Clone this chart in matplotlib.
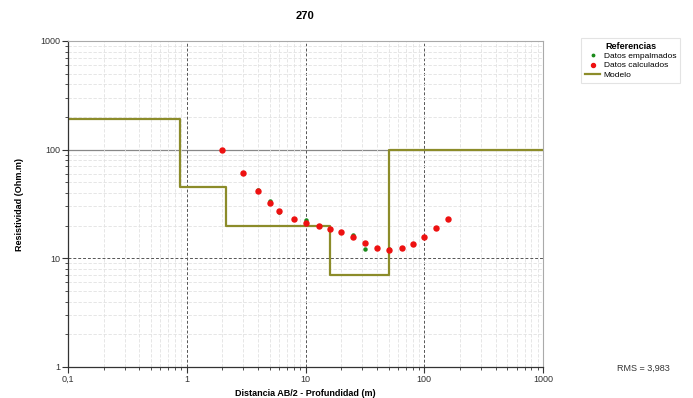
import numpy as np
import matplotlib
matplotlib.use('Agg')
import matplotlib.pyplot as plt
from matplotlib.ticker import FuncFormatter, LogLocator, NullFormatter

# Modelo de capas (limites en AB/2 y resistividad)
modelo_x = [0.1, 0.88, 0.88, 2.15, 2.15, 16, 16, 50, 50, 1000]
modelo_rho = [190, 190, 45, 45, 20, 20, 7, 7, 100, 100]

# Datos medidos / calculados
ab2 = [2, 3, 4, 5, 6, 8, 10, 13, 16, 20, 25, 32, 40, 50, 65, 80, 100, 125, 160]
rho_empalmados = [100, 60.5, 42.7, 33.9, 26.8, 23.1, 22.5, 19.7, 18.6, 17.3,
                  16.5, 12.3, 12.5, 12.2, 12.4, 13.6, 15.8, 19.0, 23.1]
rho_calculados = [100, 60.5, 41.6, 32.5, 27.4, 23.1, 21.3, 19.7, 18.6, 17.3,
                  15.7, 13.9, 12.5, 11.9, 12.4, 13.6, 15.8, 19.0, 23.1]

plt.rcParams['font.family'] = ['Liberation Sans', 'DejaVu Sans']

fig = plt.figure(figsize=(6.93, 3.98), dpi=100)
ax = fig.add_axes([68 / 693, 1 - 367 / 398, 475 / 693, 326 / 398])

ax.set_xscale('log')
ax.set_yscale('log')
ax.set_xlim(0.1, 1000)
ax.set_ylim(1, 1000)

# rejilla
ax.grid(which='minor', color='#e2e2e2', linestyle='--', linewidth=0.6, dashes=(4, 2))
ax.grid(which='major', axis='x', color='#555555', linestyle='--', linewidth=0.7, dashes=(3, 2))
ax.axhline(10, color='#555555', linestyle='--', linewidth=0.7, dashes=(3, 2), zorder=0.5)
ax.axhline(100, color='#888888', linewidth=0.9, zorder=0.5)
ax.set_axisbelow(True)

ax.plot(modelo_x, modelo_rho, color='#8c8c2a', linewidth=1.6, label='Modelo', zorder=2)
ax.plot(ab2, rho_empalmados, 'o', color='#1a8a1a', markersize=2.2, linestyle='none',
        label='Datos empalmados', zorder=3)
ax.plot(ab2, rho_calculados, 'o', color='#ee1111', markersize=3.6, linestyle='none',
        label='Datos calculados', zorder=4)

fmt = FuncFormatter(lambda v, p: ('%g' % v).replace('.', ','))
ax.xaxis.set_major_formatter(fmt)
ax.yaxis.set_major_formatter(fmt)
ax.xaxis.set_minor_formatter(NullFormatter())
ax.yaxis.set_minor_formatter(NullFormatter())
ax.xaxis.set_minor_locator(LogLocator(base=10, subs=np.arange(2, 10)))
ax.yaxis.set_minor_locator(LogLocator(base=10, subs=np.arange(2, 10)))
ax.tick_params(which='major', length=4, labelsize=6.5, colors='#333333', direction='out', pad=1.5)
ax.tick_params(which='minor', length=2.5, direction='out', color='#333333')
ax.tick_params(top=False, right=False, which='both')

for s in ['top', 'right']:
    ax.spines[s].set_color('#aaaaaa')
    ax.spines[s].set_linewidth(0.8)
for s in ['left', 'bottom']:
    ax.spines[s].set_color('#333333')
    ax.spines[s].set_linewidth(0.9)

fig.text(305 / 693, 1 - 393 / 398, 'Distancia AB/2 - Profundidad (m)', fontsize=6.5,
         fontweight='bold', ha='center', va='center')
fig.text(20 / 693, 1 - 205 / 398, 'Resistividad (Ohm.m)', fontsize=6.5,
         fontweight='bold', ha='center', va='center', rotation=90)

fig.text(305 / 693, 1 - 16 / 398, '270', fontsize=8, fontweight='bold', ha='center', va='center')
fig.text(643 / 693, 1 - 368 / 398, 'RMS = 3,983', fontsize=6.5, ha='center', va='center',
         color='#333333')

h, l = ax.get_legend_handles_labels()
orden = [1, 2, 0]
leg = fig.legend([h[i] for i in orden], [l[i] for i in orden], title='Referencias',
                 loc='upper left', bbox_to_anchor=(577 / 693, 1 - 34 / 398),
                 fontsize=6, title_fontproperties={'weight': 'bold', 'size': 6.5},
                 frameon=True, fancybox=False, edgecolor='#dddddd', handlelength=1.8,
                 handletextpad=0.4, borderpad=0.5, labelspacing=0.15, markerscale=0.8)
leg.get_frame().set_linewidth(0.8)

fig.savefig('out.png', dpi=100)
